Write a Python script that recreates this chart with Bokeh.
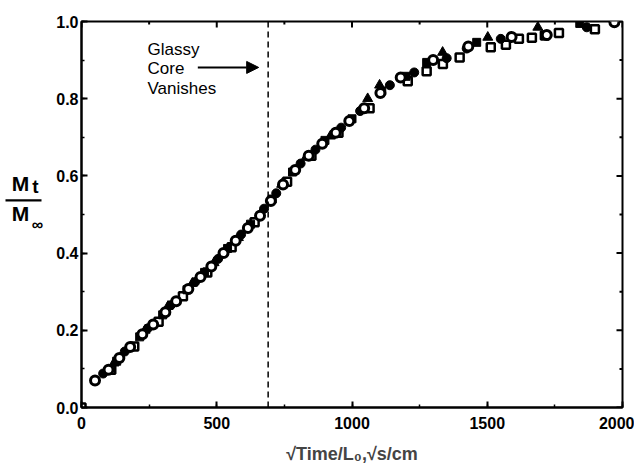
import numpy as np
from bokeh.plotting import figure
from bokeh.layouts import row
from bokeh.models import (Range1d, Span, Label, Arrow, NormalHead,
                          SingleIntervalTicker, PrintfTickFormatter)
from bokeh.core.properties import value
from bokeh.embed import file_html
from bokeh.resources import INLINE

# ---- data ----
oc_x = [50, 100, 140, 180, 225, 265, 310, 350, 395, 440, 480, 525, 570, 615, 660, 700,
        745, 790, 840, 890, 940, 990, 1045, 1105, 1180, 1300, 1430, 1590, 1720, 1970]
oc_y = [0.07, 0.098, 0.128, 0.157, 0.19, 0.215, 0.247, 0.275, 0.307, 0.338, 0.365, 0.40,
        0.432, 0.465, 0.497, 0.535, 0.578, 0.615, 0.652, 0.683, 0.712, 0.742, 0.775, 0.815,
        0.855, 0.90, 0.935, 0.96, 0.965, 0.998]

fc_x = [80, 160, 245, 330, 420, 505, 590, 675, 720, 810, 865, 960, 1030, 1140, 1230, 1350,
        1424, 1550, 1868]
fc_y = [0.088, 0.145, 0.205, 0.265, 0.325, 0.385, 0.448, 0.515, 0.555, 0.632, 0.668, 0.725,
        0.768, 0.835, 0.868, 0.905, 0.93, 0.955, 0.985]

os_x = [0, 110, 195, 285, 375, 465, 555, 640, 760, 850, 950, 1065, 1206, 1276, 1336, 1398,
        1513, 1569, 1617, 1665, 1713, 1765, 1898]
os_y = [0.0, 0.098, 0.158, 0.222, 0.288, 0.35, 0.415, 0.48, 0.585, 0.652, 0.712, 0.775,
        0.845, 0.871, 0.89, 0.907, 0.933, 0.94, 0.955, 0.958, 0.964, 0.97, 0.98]

fs_x = [130, 215, 300, 390, 455, 540, 625, 705, 780, 900, 1000, 1110, 1200, 1276, 1461, 1842]
fs_y = [0.12, 0.183, 0.24, 0.305, 0.35, 0.412, 0.475, 0.54, 0.61, 0.692, 0.748, 0.82,
        0.858, 0.894, 0.946, 0.995]

tr_x = [120, 235, 320, 410, 490, 580, 660, 740, 830, 920, 1058, 1102, 1335, 1502, 1687]
tr_y = [0.115, 0.2, 0.262, 0.322, 0.375, 0.44, 0.5, 0.578, 0.648, 0.703, 0.80, 0.835,
        0.92, 0.959, 0.985]

core_vanish_x = 690
x_min, x_max, x_major, x_minor = 0, 2000, 500, 250
y_min, y_max, y_major, y_minor = 0.0, 1.0, 0.2, 0.1

FONT = "Liberation Sans"

# ---- left strip holding the fraction-style y label ----
LW, H = 46, 466
lab = figure(width=LW, height=H, output_backend="svg", toolbar_location=None,
             x_range=Range1d(0, LW), y_range=Range1d(H, 0),
             min_border=0, outline_line_color=None)
lab.axis.visible = False
lab.grid.visible = False
lab.text(x=[20], y=[196], text=["M"], text_font=value(FONT), text_font_size="21px",
         text_font_style="bold", text_align="center", text_baseline="middle")
lab.text(x=[35], y=[199], text=["t"], text_font=value(FONT), text_font_size="19px",
         text_font_style="bold", text_align="center", text_baseline="middle")
lab.segment(x0=[5], y0=[216], x1=[41], y1=[216], line_width=2.2, line_color="black")
lab.text(x=[20], y=[232], text=["M"], text_font=value(FONT), text_font_size="21px",
         text_font_style="bold", text_align="center", text_baseline="middle")
lab.text(x=[37], y=[245], text=["\u221e"], text_font=value(FONT), text_font_size="16px",
         text_font_style="bold", text_align="center", text_baseline="middle")

# ---- main plot ----
p = figure(width=634 - LW, height=H, output_backend="svg", toolbar_location=None,
           x_range=Range1d(x_min, x_max), y_range=Range1d(y_min, y_max),
           min_border_left=81 - LW, min_border_right=12, min_border_top=21,
           min_border_bottom=H - 408,
           x_axis_label="\u221aTime/L\u2080,\u221as/cm")
p.grid.visible = False
p.outline_line_color = "black"
p.outline_line_width = 2

p.xaxis.ticker = SingleIntervalTicker(interval=x_major, num_minor_ticks=2)
p.yaxis.ticker = SingleIntervalTicker(interval=y_major, num_minor_ticks=2)
p.yaxis.formatter = PrintfTickFormatter(format="%.1f")

for ax in [p.xaxis[0], p.yaxis[0]]:
    ax.axis_line_width = 2
    ax.major_tick_in = 6
    ax.major_tick_out = 0
    ax.minor_tick_in = 3
    ax.minor_tick_out = 0
    ax.major_tick_line_width = 2
    ax.minor_tick_line_width = 1.5
    ax.major_label_text_font = FONT
    ax.major_label_text_font_size = "16px"
    ax.major_label_text_font_style = "bold"
    ax.major_label_text_color = "black"
p.xaxis.major_label_standoff = 9
p.yaxis.major_label_standoff = 3
p.xaxis.axis_label_text_font = FONT
p.xaxis.axis_label_text_font_size = "18px"
p.xaxis.axis_label_text_font_style = "bold"
p.xaxis.axis_label_standoff = 12

# mirrored inward ticks on top and right edges
fw, fh = 541.0, 387.0
xt = np.arange(x_min, x_max + 1, x_minor)
xt_len = np.where(xt % x_major == 0, 6, 3) * (y_max - y_min) / fh
p.segment(x0=xt, y0=y_max, x1=xt, y1=y_max - xt_len, line_color="black", line_width=2)
yt = np.round(np.arange(y_min, y_max + 1e-9, y_minor), 2)
yt_major = np.isclose(np.round(yt / y_major) * y_major, yt)
yt_len = np.where(yt_major, 6, 3) * (x_max - x_min) / fw
p.segment(x0=x_max, y0=yt, x1=x_max - yt_len, y1=yt, line_color="black", line_width=2)

# vertical dashed line
p.add_layout(Span(location=core_vanish_x, dimension="height", line_color="black",
                  line_width=1.5, line_dash="6 4"))

# data markers
p.scatter(os_x, os_y, marker="square", size=8, fill_color="white", line_color="black",
          line_width=2.5)
p.scatter(fs_x, fs_y, marker="square", size=8, fill_color="black", line_color="black")
p.scatter(tr_x, tr_y, marker="triangle", size=10, fill_color="black", line_color="black")
p.scatter(fc_x, fc_y, marker="circle", size=9, fill_color="black", line_color="black")
p.scatter(oc_x, oc_y, marker="circle", size=9, fill_color="white", line_color="black",
          line_width=3)

# annotation
for txt, yy in [("Glassy", 0.928), ("Core", 0.879), ("Vanishes", 0.827)]:
    p.add_layout(Label(x=244, y=yy, text=txt, text_font=FONT, text_font_size="17px",
                       text_align="left", text_baseline="middle", text_color="black"))
p.add_layout(Arrow(x_start=430, y_start=0.881, x_end=655, y_end=0.881, line_width=2,
                   end=NormalHead(size=12, fill_color="black", line_color="black")))

layout = row(lab, p)
open("out.html", "w").write(file_html(layout, INLINE))
